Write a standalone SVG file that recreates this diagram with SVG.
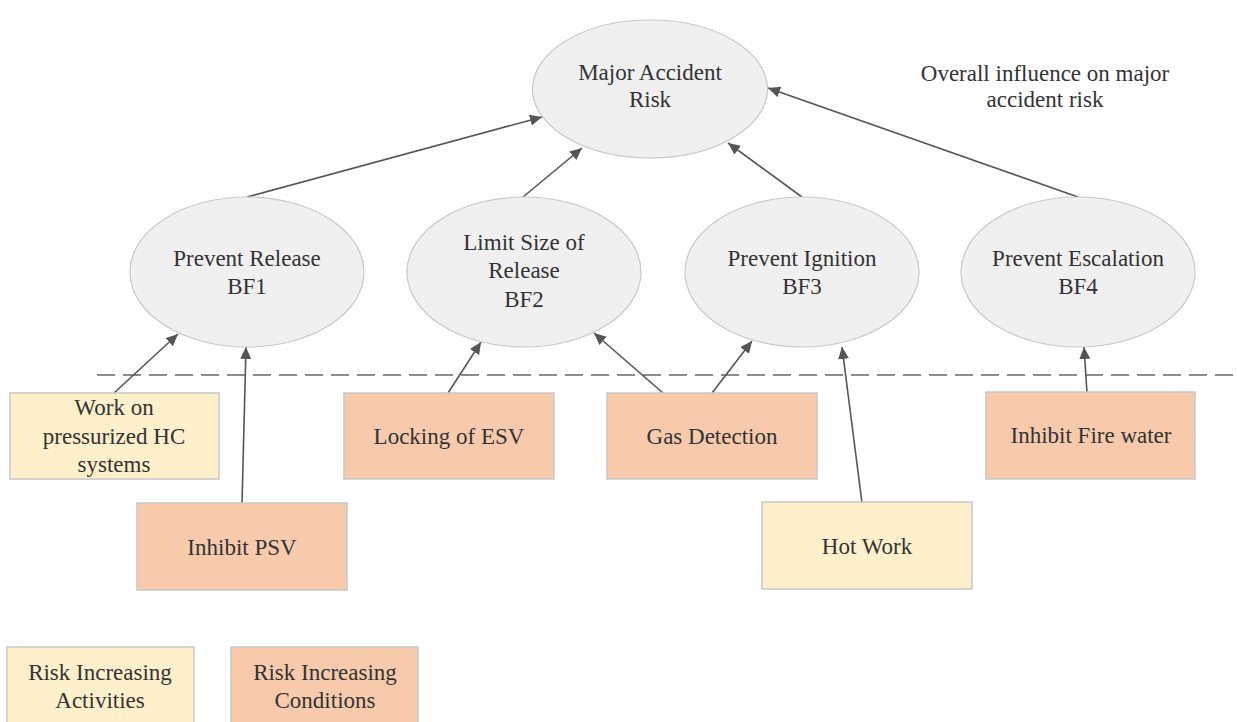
<svg xmlns="http://www.w3.org/2000/svg" width="1237" height="722" viewBox="0 0 1237 722">
  <style>
    .goal { fill: #f0f0f0; stroke: #c8c8c8; stroke-width: 1.2; }
    .act { fill: #fff0cc; stroke: #c8c8c8; stroke-width: 1.5; }
    .cond { fill: #f6caab; stroke: #c8c8c8; stroke-width: 1.5; }
    .link { stroke: #555555; stroke-width: 1.6; fill: none; marker-end: url(#arrow); }
    .divider { stroke: #666666; stroke-width: 1.6; stroke-dasharray: 18 8; fill: none; }
    .lbl { font-family: Liberation Serif, serif; font-size: 23px; fill: #333333; text-anchor: middle; }
  </style>
  <defs>
    <marker id="arrow" markerUnits="userSpaceOnUse" markerWidth="13" markerHeight="12" refX="12" refY="5.5" orient="auto">
      <path d="M0,0 L12,5.5 L0,11 z" fill="#555555"/>
    </marker>
  </defs>

  <rect width="1237" height="722" fill="#ffffff"/>

  <!-- boundary between barrier functions and influencing factors -->
  <line class="divider" x1="97" y1="375" x2="1237" y2="375"/>

  <!-- connectors -->
  <g id="connectors">
    <line class="link" x1="247" y1="197" x2="542" y2="117"/>
    <line class="link" x1="523" y1="197" x2="582" y2="148"/>
    <line class="link" x1="802" y1="197" x2="728" y2="143"/>
    <line class="link" x1="1078" y1="197" x2="768" y2="88"/>
    <line class="link" x1="114" y1="393" x2="178" y2="334"/>
    <line class="link" x1="242" y1="503" x2="246" y2="347"/>
    <line class="link" x1="448" y1="393" x2="481" y2="342"/>
    <line class="link" x1="663" y1="393" x2="594" y2="333"/>
    <line class="link" x1="712" y1="393" x2="752" y2="341"/>
    <line class="link" x1="862" y1="503" x2="842" y2="347"/>
    <line class="link" x1="1087" y1="393" x2="1084" y2="347"/>
  </g>

  <!-- top event -->
  <g id="major-accident-risk">
    <ellipse class="goal" cx="650" cy="89" rx="117.5" ry="69"/>
    <text class="lbl" x="650" y="80">Major Accident</text>
    <text class="lbl" x="650" y="107">Risk</text>
  </g>

  <g id="overall-influence-label">
    <text class="lbl" x="1045" y="81">Overall influence on major</text>
    <text class="lbl" x="1045" y="107">accident risk</text>
  </g>

  <!-- barrier functions -->
  <g id="bf1">
    <ellipse class="goal" cx="247" cy="272" rx="117" ry="75"/>
    <text class="lbl" x="247" y="266">Prevent Release</text>
    <text class="lbl" x="247" y="294">BF1</text>
  </g>
  <g id="bf2">
    <ellipse class="goal" cx="524" cy="272" rx="117" ry="75"/>
    <text class="lbl" x="524" y="250">Limit Size of</text>
    <text class="lbl" x="524" y="278">Release</text>
    <text class="lbl" x="524" y="307">BF2</text>
  </g>
  <g id="bf3">
    <ellipse class="goal" cx="802" cy="272" rx="117" ry="75"/>
    <text class="lbl" x="802" y="266">Prevent Ignition</text>
    <text class="lbl" x="802" y="294">BF3</text>
  </g>
  <g id="bf4">
    <ellipse class="goal" cx="1078" cy="272" rx="117" ry="75"/>
    <text class="lbl" x="1078" y="266">Prevent Escalation</text>
    <text class="lbl" x="1078" y="294">BF4</text>
  </g>

  <!-- influencing activities and conditions -->
  <g id="work-on-hc">
    <rect class="act" x="10" y="393" width="209" height="86"/>
    <text class="lbl" x="114" y="415">Work on</text>
    <text class="lbl" x="114" y="444">pressurized HC</text>
    <text class="lbl" x="114" y="472">systems</text>
  </g>
  <g id="inhibit-psv">
    <rect class="cond" x="137" y="503" width="210" height="87"/>
    <text class="lbl" x="242" y="555">Inhibit PSV</text>
  </g>
  <g id="locking-esv">
    <rect class="cond" x="344" y="393" width="210" height="86"/>
    <text class="lbl" x="449" y="444">Locking of ESV</text>
  </g>
  <g id="gas-detection">
    <rect class="cond" x="607" y="393" width="210" height="86"/>
    <text class="lbl" x="712" y="444">Gas Detection</text>
  </g>
  <g id="hot-work">
    <rect class="act" x="762" y="502" width="210" height="87"/>
    <text class="lbl" x="867" y="554">Hot Work</text>
  </g>
  <g id="inhibit-fire-water">
    <rect class="cond" x="986" y="392" width="209" height="87"/>
    <text class="lbl" x="1091" y="443">Inhibit Fire water</text>
  </g>

  <!-- legend -->
  <g id="legend-activities">
    <rect class="act" x="7" y="647" width="187" height="80"/>
    <text class="lbl" x="100" y="680">Risk Increasing</text>
    <text class="lbl" x="100" y="708">Activities</text>
  </g>
  <g id="legend-conditions">
    <rect class="cond" x="231" y="647" width="187" height="80"/>
    <text class="lbl" x="325" y="680">Risk Increasing</text>
    <text class="lbl" x="325" y="708">Conditions</text>
  </g>
</svg>
